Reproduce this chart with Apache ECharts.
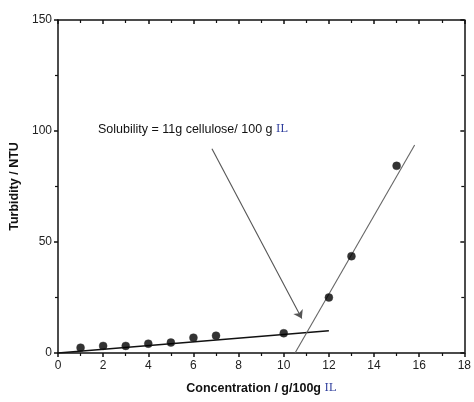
<!DOCTYPE html>
<html>
<head>
<meta charset="utf-8">
<script src="https://cdn.jsdelivr.net/npm/echarts@6/dist/echarts.min.js"></script>
<style>
  html, body { margin: 0; padding: 0; background: #fff; }
  #chart { width: 474px; height: 402px; }
</style>
</head>
<body>
<div id="chart"></div>
<script>
// measured points (concentration g/100g IL, turbidity NTU)
const concentration = [1, 2, 3, 4, 5, 6, 7, 10, 12, 13, 15];
const turbidity = [2.4, 3.2, 3.2, 4.2, 4.7, 6.9, 7.8, 8.9, 25, 43.6, 84.3];

// fitted lines
const lowFit = [[0, 0], [12, 10]];
const highFit = [[10.5, 0], [15.8, 93.7]];

// arrow from the annotation to the intersection
const arrowFrom = [6.82, 92];
const arrowTo = [10.8, 15.5];

const xTicks = { min: 0, max: 18, interval: 2 };
const yTicks = { min: 0, max: 150, interval: 50 };

const FONT = "'Liberation Sans', Arial, sans-serif";
const chart = echarts.init(document.getElementById("chart"));

const axisLine = { show: true, onZero: false, lineStyle: { color: "#111", width: 1.5 } };

chart.setOption({
  animation: false,
  backgroundColor: "#fff",
  grid: { left: 58, right: 7, top: 20, bottom: 49 },
  xAxis: [
    {
      type: "value",
      position: "bottom",
      ...xTicks,
      name: "Concentration / g/100g {il|IL}",
      nameLocation: "middle",
      nameGap: 29,
      nameTextStyle: {
        fontFamily: FONT, fontWeight: "bold", fontSize: 12.5, color: "#111",
        rich: { il: { fontFamily: "'DejaVu Serif', serif", fontSize: 11, color: "#2a3a9a", fontWeight: "normal" } }
      },
      axisLine,
      axisTick: { show: true, inside: false, length: 4, lineStyle: { color: "#111", width: 1.5 } },
      minorTick: { show: true, splitNumber: 2, length: 3, lineStyle: { color: "#111", width: 1.2 } },
      axisLabel: { fontFamily: FONT, fontSize: 12, color: "#222", margin: 7 },
      splitLine: { show: false }
    },
    {
      type: "value",
      position: "top",
      ...xTicks,
      axisLine,
      axisTick: { show: true, inside: true, length: 4, lineStyle: { color: "#111", width: 1.5 } },
      minorTick: { show: true, splitNumber: 2, length: 3, lineStyle: { color: "#111", width: 1.2 } },
      axisLabel: { show: false },
      splitLine: { show: false }
    }
  ],
  yAxis: [
    {
      type: "value",
      position: "left",
      ...yTicks,
      name: "Turbidity / NTU",
      nameLocation: "middle",
      nameGap: 34,
      nameTextStyle: { fontFamily: FONT, fontWeight: "bold", fontSize: 12.5, color: "#111" },
      axisLine,
      axisTick: { show: true, inside: false, length: 4, lineStyle: { color: "#111", width: 1.5 } },
      minorTick: { show: true, splitNumber: 2, length: 3, lineStyle: { color: "#111", width: 1.2 } },
      axisLabel: { fontFamily: FONT, fontSize: 12, color: "#222", margin: 6 },
      splitLine: { show: false }
    },
    {
      type: "value",
      position: "right",
      ...yTicks,
      axisLine,
      axisTick: { show: true, inside: true, length: 4, lineStyle: { color: "#111", width: 1.5 } },
      minorTick: { show: true, splitNumber: 2, length: 3, lineStyle: { color: "#111", width: 1.2 } },
      axisLabel: { show: false },
      splitLine: { show: false }
    }
  ],
  series: [
    {
      name: "low fit",
      type: "line",
      data: lowFit,
      symbol: "none",
      lineStyle: { color: "#111", width: 1.6 },
      z: 2
    },
    {
      name: "high fit",
      type: "line",
      data: highFit,
      symbol: "none",
      lineStyle: { color: "#666", width: 1.1 },
      z: 2
    },
    {
      name: "turbidity",
      type: "scatter",
      data: concentration.map((c, i) => [c, turbidity[i]]),
      symbol: "circle",
      symbolSize: 8,
      itemStyle: { color: "#000", borderColor: "#333", borderWidth: 0.5 },
      z: 3
    },
    {
      name: "arrow",
      type: "scatter",
      data: [],
      markLine: {
        silent: true,
        symbol: ["none", "arrow"],
        symbolSize: 8,
        label: { show: false },
        lineStyle: { color: "#555", width: 1.1, type: "solid" },
        data: [[{ coord: arrowFrom }, { coord: arrowTo }]]
      }
    }
  ],
  graphic: [
    {
      type: "text",
      left: 98,
      top: 123,
      style: {
        text: "Solubility = 11g cellulose/ 100 g {il|IL}",
        fontFamily: FONT,
        fontSize: 12.5,
        fill: "#111",
        rich: { il: { fontFamily: "'DejaVu Serif', serif", fontSize: 11, fill: "#2a3a9a" } }
      }
    }
  ]
});
</script>
</body>
</html>
